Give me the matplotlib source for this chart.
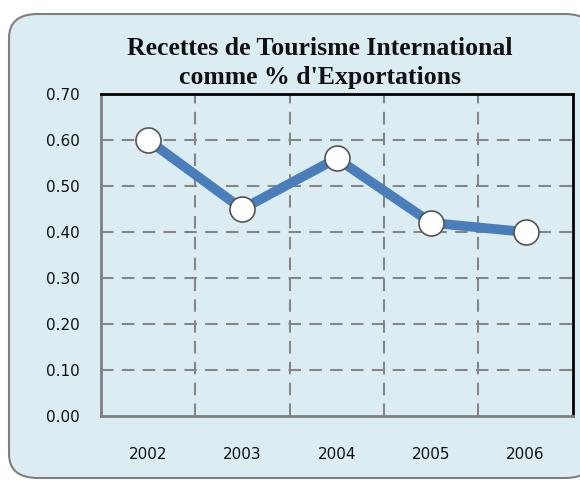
import matplotlib.pyplot as plt
from matplotlib.patches import FancyBboxPatch

years = ["2002", "2003", "2004", "2005", "2006"]
values = [0.60, 0.45, 0.56, 0.42, 0.40]
yticks = [0.0, 0.1, 0.2, 0.3, 0.4, 0.5, 0.6, 0.7]

bg = "#dbedf3"

fig = plt.figure(figsize=(5.8, 4.8), dpi=100)
fig.patch.set_facecolor("white")

# rounded outer frame (runs past the right edge like the original)
box = FancyBboxPatch((9 / 580, 2 / 480), 585 / 580, 464 / 480,
                     boxstyle="round,pad=0,rounding_size=0.05",
                     transform=fig.transFigure, facecolor=bg,
                     edgecolor="#7f7f7f", linewidth=1.5, zorder=-1)
fig.patches.append(box)

ax = fig.add_axes([100.7 / 580, 64 / 480, 472 / 580, 322 / 480])
ax.set_zorder(1)
ax.set_facecolor(bg)

x = list(range(len(years)))
ax.plot(x, values, color="#4a7ebb", linewidth=7, solid_capstyle="butt",
        marker="o", markersize=18, markerfacecolor="white",
        markeredgecolor="#555555", markeredgewidth=1.2, zorder=3)

ax.set_xlim(-0.5, 4.5)
ax.set_ylim(0, 0.7)
ax.set_yticks(yticks)
ax.set_yticklabels(["%.2f" % v for v in yticks])
ax.set_xticks(x)
ax.set_xticklabels(years)
ax.tick_params(axis="both", length=0, labelsize=11, colors="#111111")
ax.tick_params(axis="y", pad=15)
ax.tick_params(axis="x", pad=22)

# grid: horizontal at values, vertical between categories
for v in yticks[1:-1]:
    ax.axhline(v, color="#868686", linestyle=(0, (6, 4)), linewidth=1.5, zorder=1)
for b in [0.5, 1.5, 2.5, 3.5]:
    ax.axvline(b, color="#868686", linestyle=(0, (6, 4)), linewidth=1.5, zorder=1)

for side in ["left", "bottom"]:
    ax.spines[side].set_color("#808080")
    ax.spines[side].set_linewidth(2)
for side in ["top", "right"]:
    ax.spines[side].set_color("black")
    ax.spines[side].set_linewidth(2)

fig.text(0.5 + 30 / 580, 1 - 63 / 480, "Recettes de Tourisme International\ncomme % d'Exportations",
         ha="center", va="center", fontsize=18.5, fontweight="bold",
         family="Liberation Serif", linespacing=1.3, color="#111111")

fig.savefig("out.png", dpi=100, facecolor=fig.get_facecolor())
